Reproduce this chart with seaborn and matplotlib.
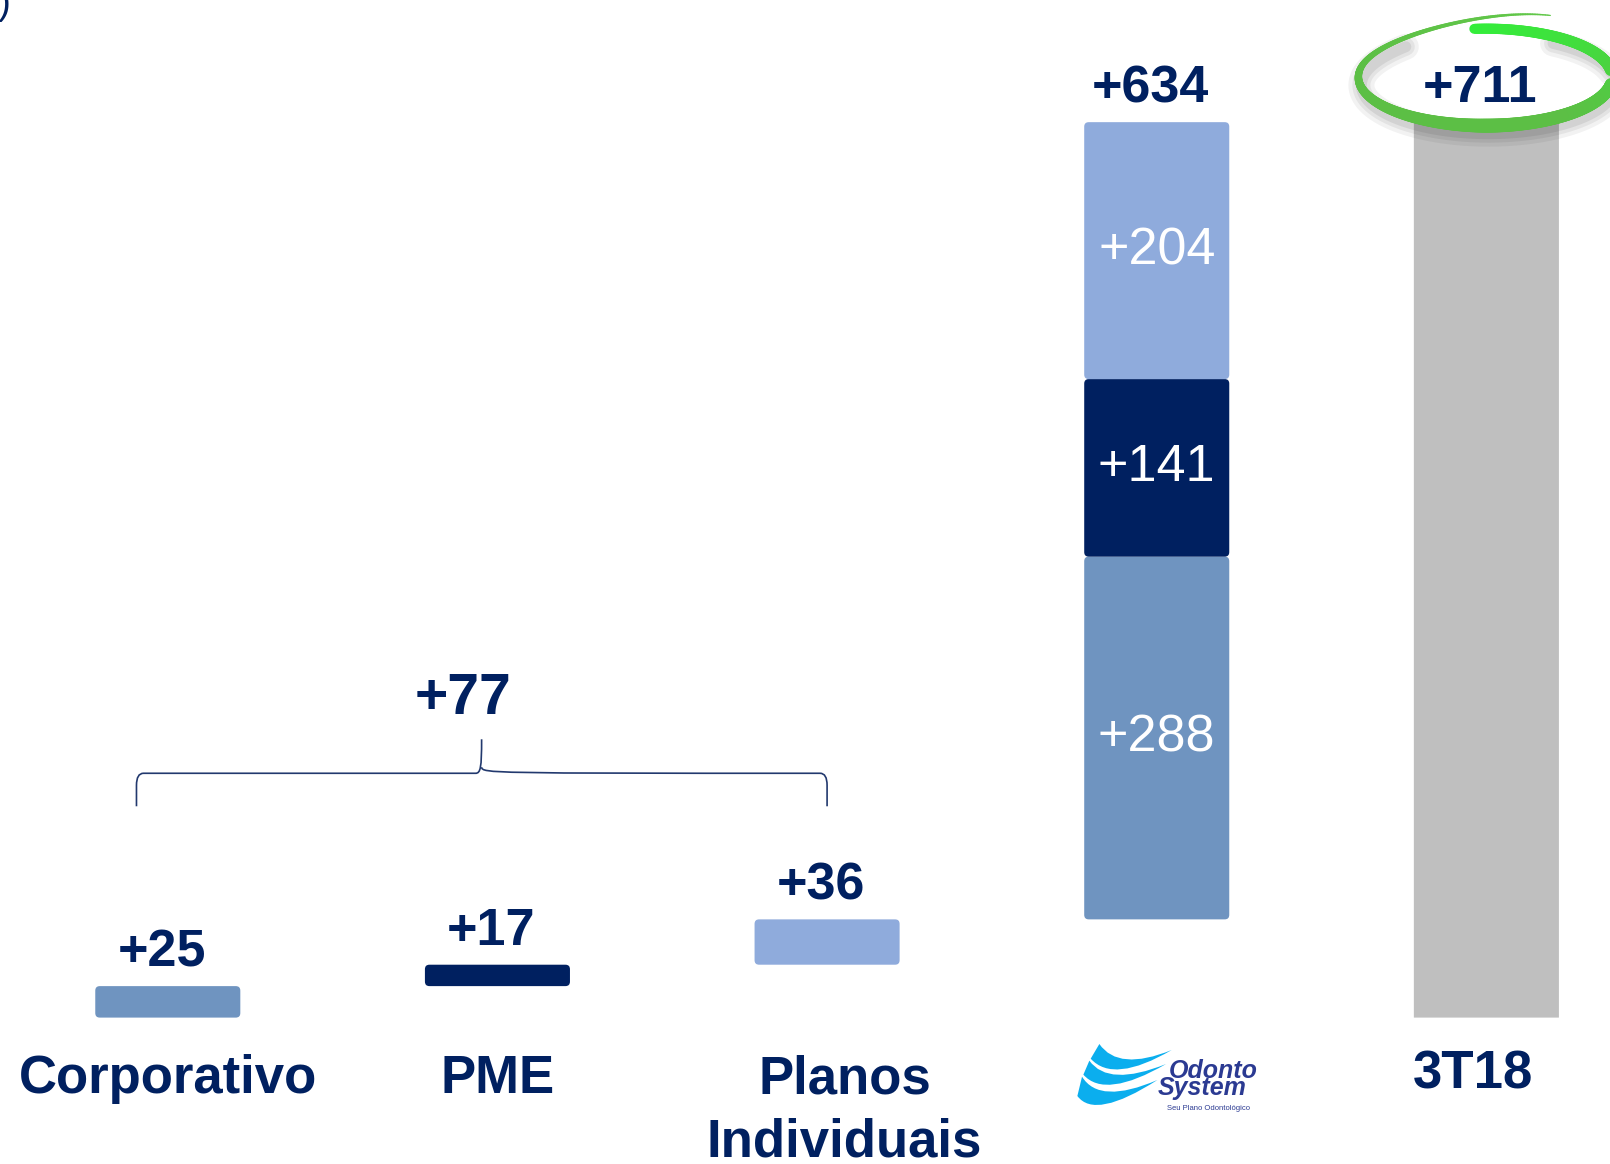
import numpy as np
import matplotlib
matplotlib.use("Agg")
import matplotlib.pyplot as plt
import seaborn as sns
from matplotlib.patches import FancyBboxPatch, PathPatch
from matplotlib.path import Path
from matplotlib.collections import LineCollection
from matplotlib.lines import Line2D
from matplotlib.transforms import Affine2D
from matplotlib.colors import to_rgb

# ---------------- data ----------------
categories = ["Corporativo", "PME", "Planos\nIndividuais", "Odonto System", "3T18"]
tick_labels = ["Corporativo", "PME", "Planos\nIndividuais", "", "3T18"]
step_categories = ["Corporativo", "PME", "Planos\nIndividuais",
                   "Odonto System", "Odonto System", "Odonto System"]
step_values = [25, 17, 36, 288, 141, 204]
total_category = "3T18"
total_value = 711
top_labels = [25, 17, 36, 634, 711]
group_value = 77
logo_name = ["Odonto", "System"]
logo_tagline = "Seu Plano Odontológico"

# ---------------- style ----------------
seg_colors = ["#6F94C0", "#002060", "#8FABDC", "#6F94C0", "#002060", "#8FABDC"]
total_color = "#BFBFBF"
NAVY = "#002060"
LOGO_BLUE = "#2B3A92"
SWOOSH = "#0BAEEE"

sns.set_style("white")
plt.rcParams["font.family"] = ["Liberation Sans", "DejaVu Sans"]

W, H = 1610, 1164
fig = plt.figure(figsize=(W / 100, H / 100), dpi=100)
base_px = 1017.6
ax = fig.add_axes([0, (H - base_px) / H, 1, base_px / H])

XLIM = (-0.509, 4.375)
YLIM = (0, 808)
px_per_x = W / (XLIM[1] - XLIM[0])
px_per_y = base_px / (YLIM[1] - YLIM[0])
r_x = 4.5 / px_per_x
aspect = px_per_x / px_per_y


def round_patch(p, rounded=True):
    x, y, w, h = p.get_x(), p.get_y(), p.get_width(), p.get_height()
    fc = p.get_facecolor()
    p.remove()
    rs = r_x if rounded else 0.0
    fp = FancyBboxPatch((x, y), w, h,
                        boxstyle=f"round,pad=0,rounding_size={rs}",
                        mutation_aspect=aspect, fc=fc, ec="none", lw=0)
    ax.add_patch(fp)
    return (x, y, w, h)


bars = []
running = 0
for cat, val, col in zip(step_categories, step_values, seg_colors):
    sns.barplot(x=[cat], y=[val], order=categories, color=col, saturation=1,
                width=0.44, errorbar=None, bottom=running, ax=ax)
    bars.append((cat, round_patch(ax.patches[-1])))
    running += val
sns.barplot(x=[total_category], y=[total_value], order=categories,
            color=total_color, saturation=1, width=0.44, errorbar=None, ax=ax)
bars.append((total_category, round_patch(ax.patches[-1], rounded=False)))

ax.set_autoscale_on(False)
ax.set_xlim(*XLIM)
ax.set_ylim(*YLIM)
for s in ax.spines.values():
    s.set_visible(False)
ax.set_yticks([])
ax.set_xlabel("")
ax.set_ylabel("")
ax.grid(False)
ax.patch.set_alpha(0)
ax.tick_params(axis="x", length=0, pad=54.3)
ax.set_xticks(range(len(categories)), tick_labels, va="baseline", fontsize=38,
              fontweight="bold", color=NAVY, linespacing=1.35)
ticks = ax.xaxis.get_major_ticks()
ticks[2].set_pad(100.2)   # two-line label: keep first line on the common baseline
ticks[4].set_pad(50.7)
for idx, dx in [(2, 17.5), (4, -13)]:
    lbl = ticks[idx].label1
    lbl.set_transform(lbl.get_transform() + Affine2D().translate(dx, 0))

# top labels
cat_top = {}
for cat, (x, y, w, h) in bars:
    cat_top[cat] = max(cat_top.get(cat, 0), y + h)
for i, cat in enumerate(categories):
    ax.annotate(f"+{top_labels[i]}", xy=(i, cat_top[cat]), xytext=(-4.3, 14.4),
                textcoords="offset points", ha="center", va="baseline",
                fontsize=37.5, fontweight="bold", color=NAVY)

# inner labels for stacked segments
for (cat, (x, y, w, h)), val in zip(bars[3:6], step_values[3:6]):
    ax.text(x + w / 2, y + h / 2, f"+{val}", ha="center", va="center",
            color="white", fontsize=37.5)

# pixel-space helpers
px_tr = Affine2D().scale(1 / W, -1 / H).translate(0, 1) + fig.transFigure


def to_px(x, y):
    dx, dy = ax.transData.transform((x, y))
    return dx, H - dy


# brace over first three bars
brace_x = (-0.095, 0.952, 2.0)
brace_y = 194
L, _ = to_px(brace_x[0], brace_y)
T, yl = to_px(brace_x[1], brace_y)
R, _ = to_px(brace_x[2], brace_y)
ye = yl + 33
yt = yl - 34
verts = [(L, ye), (L, yl + 12), (L, yl), (L + 7, yl),
         (T - 6, yl), (T - 1, yl), (T, yl - 6), (T, yt),
         (T, yl - 6), (T + 1, yl), (T + 6, yl),
         (R - 7, yl), (R, yl), (R, yl + 12), (R, ye)]
codes = [Path.MOVETO, Path.LINETO, Path.CURVE3, Path.CURVE3,
         Path.LINETO, Path.CURVE4, Path.CURVE4, Path.CURVE4,
         Path.MOVETO, Path.CURVE4, Path.CURVE4,
         Path.LINETO, Path.CURVE3, Path.CURVE3, Path.LINETO]
fig.add_artist(PathPatch(Path(verts, codes), fill=False, ec="#22396E",
                         lw=1.2, transform=px_tr))
ax.text(brace_x[1] - 0.057, brace_y + 47, f"+{group_value}", ha="center",
        va="baseline", fontsize=41, fontweight="bold", color=NAVY)

# Odonto System logo in place of the tick label
cx3, _ = to_px(3, 0)
ox, oy = cx3 - 96.7, base_px + 12.4
logo_tr = Affine2D().scale(1 / 3).translate(ox, oy) + px_tr
bands = [
    [(118, 42), (175, 125), (335, 60), (160, 162), (92, 86)],
    [(88, 92), (145, 172), (318, 102), (135, 208), (70, 134)],
    [(66, 140), (118, 225), (292, 150), (105, 270), (52, 198)],
]
for ul, cu, tip, cl, ll in bands:
    pth = Path([ul, cu, tip, cl, ll, ul],
               [Path.MOVETO, Path.CURVE3, Path.CURVE3, Path.CURVE3, Path.CURVE3,
                Path.CLOSEPOLY])
    fig.add_artist(PathPatch(pth, fc=SWOOSH, ec="none", transform=logo_tr))
fig.text(ox + 109, oy + 47.5, logo_name[0], transform=px_tr, fontsize=18,
         fontweight="bold", style="italic", color=LOGO_BLUE, va="baseline")
fig.text(ox + 98, oy + 64.5, logo_name[1], transform=px_tr, fontsize=18,
         fontweight="bold", style="italic", color=LOGO_BLUE, va="baseline")
fig.text(ox + 107, oy + 79.5, logo_tagline, transform=px_tr, fontsize=5.5,
         color=LOGO_BLUE, va="baseline")

# hand-drawn green ellipse around the final total
ex, ey = to_px(4, cat_top[total_category])
ecx, ecy = ex - 1, ey - 45
a, b = 127, 48.5
t = np.linspace(-95, 300, 500)
f = np.where(t > 200, 1 + 0.23 * ((t - 200) / 70) ** 2, 1.0)
tr = np.radians(t)
xs = ecx + a * np.cos(tr) * np.where(t > 200, 1 + 0.05 * (f - 1), 1.0)
ys = ecy + b * np.sin(tr) * f
pts = np.column_stack([xs, ys])
segs = np.stack([pts[:-1], pts[1:]], axis=1)
tm = (t[:-1] + t[1:]) / 2
lw_px = np.interp(tm, [-95, 90, 200, 270, 300], [10, 14, 6, 3, 1.2])
c1, c2, c3 = np.array(to_rgb("#33EE3A")), np.array(to_rgb("#5CBF45")), np.array(to_rgb("#62C84A"))
mix = np.clip((tm + 95) / 150, 0, 1)[:, None]
cols = c1 * (1 - mix) + c2 * mix
mix2 = np.clip((tm - 200) / 100, 0, 1)[:, None]
cols = cols * (1 - mix2) + c3 * mix2

# soft shadow: single continuous strokes (no overlapping alpha)
sh_t = (t > -60) & (t < 230)
for w_px, alpha in [(26, 0.05), (18, 0.06), (11, 0.07)]:
    fig.add_artist(Line2D(xs[sh_t] + 3, ys[sh_t] + 8, lw=w_px * 0.72,
                          color=(0, 0, 0, alpha), solid_capstyle="round",
                          transform=px_tr))
fig.add_artist(LineCollection(segs, linewidths=lw_px * 0.72, colors=cols,
                              capstyle="round", transform=px_tr))

# cut-off parenthesis at the top-left edge
fig.text(-2 / W, 1 - 14 / H, ")", fontsize=28, color=NAVY, va="baseline")

fig.savefig("out.png", dpi=100, facecolor="white")
